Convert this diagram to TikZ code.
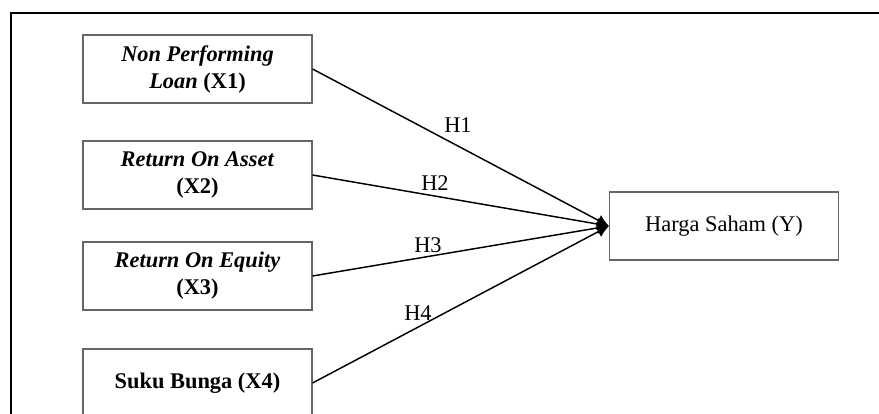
\documentclass[tikz,border=0pt]{standalone}
\usepackage{fontspec}
\setmainfont{Liberation Serif}
\usetikzlibrary{arrows.meta}
\begin{document}
\begin{tikzpicture}[x=0.75pt,y=-0.75pt,
  every node/.style={font=\fontsize{16.8}{20.25}\selectfont},
  box/.style={draw=black!60, line width=0.8pt, align=center, inner sep=0pt,
    minimum width=171.75pt, minimum height=51pt},
  arr/.style={line width=1.1pt, -{Latex[length=9pt,width=9pt]}},
  lbl/.style={inner sep=0pt}]
\useasboundingbox (0,0) rectangle (879,414);
\clip (0,0) rectangle (879,414);
\draw[line width=1.2pt] (11,425) -- (11,13) -- (890,13);
\node[box] (x1) at (197.5,69) {\textbf{\textit{Non Performing}}\\\textbf{\textit{Loan} (X1)}};
\node[box] (x2) at (197.5,175) {\textbf{\textit{Return On Asset}}\\\textbf{(X2)}};
\node[box] (x3) at (197.5,276) {\textbf{\textit{Return On Equity}}\\\textbf{(X3)}};
\node[box] (x4) at (197.5,383) {\textbf{Suku Bunga (X4)}};
\node[box] (y) at (724,226) {Harga Saham (Y)};
\draw[arr] (x1.east) -- (y.west);
\draw[arr] (x2.east) -- (y.west);
\draw[arr] (x3.east) -- (y.west);
\draw[arr] (x4.east) -- (y.west);
\node[lbl] (h1) at (458,125) {H1};
\node[lbl] (h2) at (435,183) {H2};
\node[lbl] (h3) at (428,245) {H3};
\node[lbl] (h4) at (418,313) {H4};
\end{tikzpicture}
\end{document}
